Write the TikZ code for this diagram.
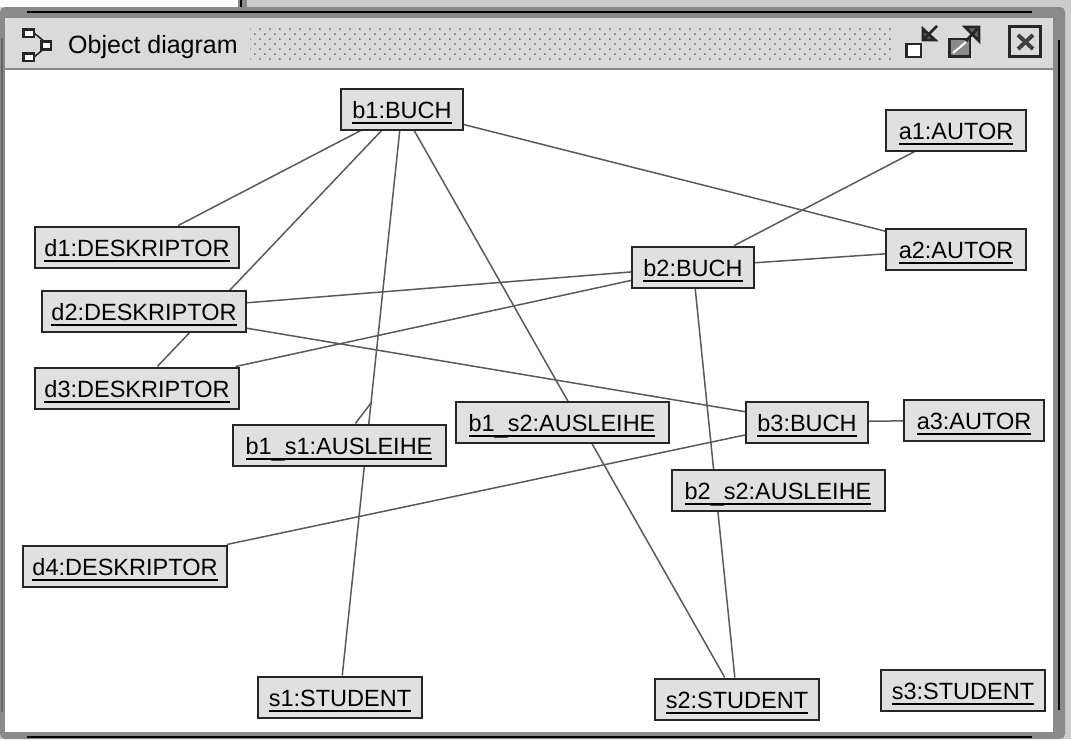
\documentclass[tikz,border=0pt]{standalone}
\usepackage{fontspec}
\setmainfont{Liberation Sans}
\usetikzlibrary{backgrounds,patterns.meta}
\definecolor{framegray}{HTML}{8A8A8A}
\definecolor{barfill}{HTML}{DADADA}
\definecolor{boxfill}{HTML}{E0E0E0}
\definecolor{linkgray}{HTML}{5A5A5A}
\newcommand{\objname}[1]{\setbox0\hbox{#1}\leavevmode\rlap{\raisebox{-6pt}{\rule{\wd0}{2.4pt}}}\box0}
\newcommand{\lowbar}{\lower2pt\hbox{\_}}
\tikzset{
  obj/.style={draw=black!85, fill=boxfill, line width=2pt, inner sep=0pt, minimum height=41pt, minimum width=#1, text height=18pt, text depth=0pt, font=\fontsize{23.5}{28}\selectfont},
  linkline/.style={draw=linkgray, line width=1.5pt},
  iconline/.style={draw=black!85, line width=2.8pt},
}
\begin{document}
\begin{tikzpicture}[x=1pt, y=-1pt]
  \useasboundingbox (0, 0) rectangle (1071, 739);
  \node[obj=122] (b1) at (402, 109) {\objname{b1:BUCH}};
  \node[obj=140] (a1) at (956, 130) {\objname{a1:AUTOR}};
  \node[obj=204] (d1) at (137, 247) {\objname{d1:DESKRIPTOR}};
  \node[obj=122] (b2) at (693, 267) {\objname{b2:BUCH}};
  \node[obj=140] (a2) at (956, 249) {\objname{a2:AUTOR}};
  \node[obj=204] (d2) at (144, 311) {\objname{d2:DESKRIPTOR}};
  \node[obj=204] (d3) at (137, 388) {\objname{d3:DESKRIPTOR}};
  \node[obj=213] (b1s2) at (562, 422) {\objname{b1\lowbar s2:AUSLEIHE}};
  \node[obj=122] (b3) at (807, 422) {\objname{b3:BUCH}};
  \node[obj=140] (a3) at (974, 420) {\objname{a3:AUTOR}};
  \node[obj=213] (b1s1) at (339, 445) {\objname{b1\lowbar s1:AUSLEIHE}};
  \node[obj=213] (b2s2) at (778, 490) {\objname{b2\lowbar s2:AUSLEIHE}};
  \node[obj=204] (d4) at (125, 566) {\objname{d4:DESKRIPTOR}};
  \node[obj=164] (s1) at (340, 697) {\objname{s1:STUDENT}};
  \node[obj=164] (s2) at (737, 699) {\objname{s2:STUDENT}};
  \node[obj=164] (s3) at (963, 690) {\objname{s3:STUDENT}};
  \node[anchor=base west, inner sep=0pt, font=\fontsize{25}{30}\selectfont] (title) at (68, 53) {Object diagram};
  \begin{scope}[on background layer]
    \fill[black!20] (0, 0) rectangle (1071, 739);
    \fill[white] (0, 0) rectangle (238, 7);
    \fill[framegray] (238, 0) rectangle (247, 7);
    \draw[black, line width=1.5pt] (241, 0) -- (241, 7);
    \fill[framegray, rounded corners=5pt] (0, 7) -- (1065, 7) -- (1065, 739) -- (0, 739) -- cycle;
    \draw[black, line width=2.2pt] (27, 12) -- (1032, 12);
    \draw[black, line width=2.2pt] (1059, 40) -- (1059, 710);
    \draw[black, line width=2.2pt] (27, 737) -- (1032, 737);
    \draw[black!60, line width=1.5pt] (2, 38) -- (2, 712);
    \fill[barfill] (5, 18) rectangle (1053, 68);
    \fill[white] (5, 70) rectangle (1053, 732);
    \fill[pattern={Dots[distance=7.07pt, angle=45, radius=1.1pt]}, pattern color=black!55] (250, 27) rectangle (893, 62);
    \draw[linkline] (b1) -- (d1);
    \draw[linkline] (b1) -- (d3);
    \draw[linkline] (b1) -- (a2);
    \draw[linkline] (b1) -- (s1) coordinate[midway] (linkb1s1);
    \draw[linkline] (b1s1) -- (linkb1s1);
    \draw[linkline] (b1) -- (s2);
    \draw[linkline] (a1) -- (b2);
    \draw[linkline] (a2) -- (b2);
    \draw[linkline] (b2) -- (d2);
    \draw[linkline] (b2) -- (d3);
    \draw[linkline] (b2) -- (s2);
    \draw[linkline] (d2) -- (b3);
    \draw[linkline] (b3) -- (a3);
    \draw[linkline] (b3) -- (d4);
  \end{scope}
  \draw[iconline, line width=1.6pt] (34, 33) -- (45, 42);
  \draw[iconline, line width=1.6pt] (34, 57) -- (45, 48);
  \draw[iconline, fill=white] (23.5, 29.5) rectangle (34, 37);
  \draw[iconline, fill=white] (23.5, 53.5) rectangle (34, 61);
  \draw[iconline, fill=white] (41.5, 41.5) rectangle (51, 49.5);
  \draw[iconline, fill=white] (906.5, 44) rectangle (921, 57);
  \draw[iconline, fill=black!60] (923, 40) -- (923, 29) -- (935, 40) -- cycle;
  \draw[iconline] (924, 39) -- (937, 26);
  \draw[iconline, fill=framegray] (949.5, 39) rectangle (970, 56.5);
  \draw[white, line width=2pt] (953, 53) -- (966, 42);
  \draw[iconline, fill=black!60] (979, 27) -- (965, 27) -- (979, 41) -- cycle;
  \draw[iconline] (978, 28) -- (966, 41);
  \draw[iconline] (1009.5, 26.5) rectangle (1040.5, 56.5);
  \draw[iconline, draw=black!75, line width=4pt] (1018, 35) -- (1033, 49) (1033, 35) -- (1018, 49);
\end{tikzpicture}
\end{document}
